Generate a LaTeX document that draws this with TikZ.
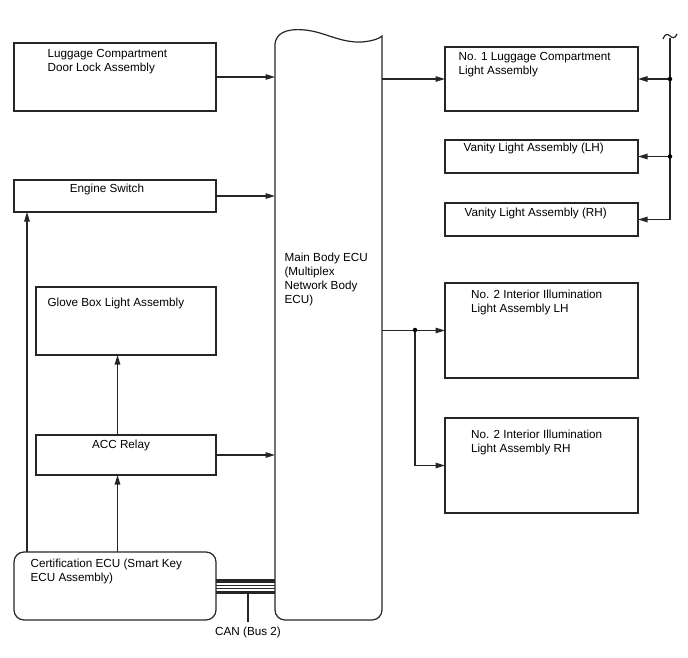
\documentclass[tikz,border=0pt]{standalone}
\usepackage{fontspec}
\setmainfont{Liberation Sans}
\usetikzlibrary{arrows.meta}
\begin{document}
\begin{tikzpicture}[x=1pt,y=-1pt,
  line width=1.2pt, draw=black!85,
  box/.style={draw, rectangle, inner sep=0pt, outer sep=0pt, anchor=north west},
  txt/.style={inner sep=0pt, anchor=base west, align=left, font=\fontsize{11.7}{14}\selectfont},
  ctxt/.style={inner sep=0pt, anchor=base, font=\fontsize{11.7}{14}\selectfont},
  arr/.style={-{Triangle[length=9.5pt,width=5.5pt]}},
  dot/.style={circle, fill=black, inner sep=0pt, minimum size=4.5pt}]
\useasboundingbox (0,0) rectangle (688,658);

% left boxes
\node[box, minimum width=202, minimum height=68] (door) at (14,43) {};
\node[box, minimum width=202, minimum height=32] (eng) at (14,180) {};
\node[box, minimum width=180, minimum height=68] (glove) at (36,287) {};
\node[box, minimum width=180, minimum height=40] (acc) at (36,435) {};
\node[box, rounded corners=10pt, minimum width=202, minimum height=68] (cert) at (14,552) {};

% right boxes
\node[box, minimum width=193, minimum height=64] (nolug) at (445,47) {};
\node[box, minimum width=193, minimum height=33] (vanL) at (445,140) {};
\node[box, minimum width=193, minimum height=33] (vanR) at (445,203) {};
\node[box, minimum width=193, minimum height=95] (intL) at (445,283) {};
\node[box, minimum width=193, minimum height=95] (intR) at (445,418) {};

% main ECU
\coordinate (ecuL) at (275,330);
\coordinate (ecuR) at (382,330);
\draw (275,44) .. controls (276,34) and (285,28) .. (305,30)
      .. controls (325,32) and (340,43) .. (362,42)
      .. controls (372,41) and (379,39) .. (382,36)
      -- (382,610) [rounded corners=10pt] -- (382,620) -- (275,620) [sharp corners] -- (275,610) -- cycle;

% texts (anchor = baseline of last line)
\node[txt] (tdoor) at (47,72) {Luggage Compartment\\Door Lock Assembly};
\node[ctxt] (teng) at (107,192) {Engine Switch};
\node[txt] (tglove) at (47,306) {Glove Box Light Assembly};
\node[ctxt] (tacc) at (121,448) {ACC Relay};
\node[txt] (tcert) at (30,581) {Certification ECU (Smart Key\\ECU Assembly)};
\node[txt] (tecu) at (284,303) {Main Body ECU\\(Multiplex\\Network Body\\ECU)};
\node[txt] (tnolug) at (458,75) {No. 1 Luggage Compartment\\Light Assembly};
\node[txt] (tvanL) at (463,152) {Vanity Light Assembly (LH)};
\node[txt] (tvanR) at (464,216.5) {Vanity Light Assembly (RH)};
\node[txt] (tintL) at (470.5,312.5) {No. 2 Interior Illumination\\Light Assembly LH};
\node[txt] (tintR) at (470.5,452.5) {No. 2 Interior Illumination\\Light Assembly RH};
\node[ctxt] (tcan) at (248,635) {CAN (Bus 2)};

% connectors into ECU
\draw[arr] (door.east) -- (door.east -| ecuL);
\draw[arr] (eng.east) -- (eng.east -| ecuL);
\draw[arr] (acc.east) -- (acc.east -| ecuL);

% ECU outputs
\draw[arr] (nolug.west -| ecuR) -- (nolug.west);
\coordinate (jn) at (415,330);
\draw[arr] (intL.west -| ecuR) -- (intL.west);
\draw[arr] (jn) |- (intR.west);
\node[dot] at (jn) {};

% right bus
\coordinate (bustop) at (670,38);
\coordinate (busbot) at (670,219.5);
\draw (bustop) -- (busbot);
\draw (663,39) .. controls (665,33) and (668,34) .. (670,36) .. controls (672,38) and (675,39) .. (677,34);
\draw[arr] (nolug.east -| bustop) -- (nolug.east);
\draw[arr] (vanL.east -| bustop) -- (vanL.east);
\draw[arr] (busbot) -- (vanR.east);
\node[dot] at (nolug.east -| bustop) {};
\node[dot] at (vanL.east -| bustop) {};

% left verticals
\coordinate (xl) at (27,0);
\coordinate (xm) at (117.5,0);
\draw[arr] (cert.north -| xl) -- (eng.south -| xl);
\draw[arr] (cert.north -| xm) -- (acc.south -| xm);
\draw[arr] (acc.north -| xm) -- (glove.south -| xm);

% CAN bus
\draw[line width=3.3pt] (216,581) -- (275,581);
\draw[line width=1pt] (216,585.3) -- (275,585.3);
\draw[line width=1pt] (216,588.8) -- (275,588.8);
\draw[line width=3.3pt] (216,592.5) -- (275,592.5);
\coordinate (canb) at (248,594);
\draw (canb) -- (tcan.north |- 0,622);
\end{tikzpicture}
\end{document}
